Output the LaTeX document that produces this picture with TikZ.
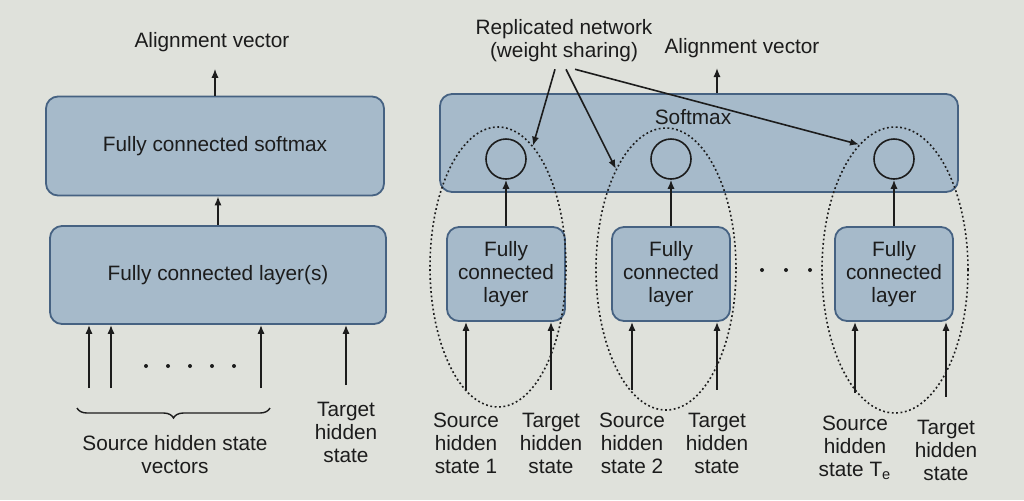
\documentclass[tikz,border=0pt]{standalone}
\usepackage{fontspec}
\setmainfont{Liberation Sans}
\usetikzlibrary{arrows.meta,shapes.geometric,decorations.pathreplacing}

\definecolor{screen}{RGB}{223,225,219}
\definecolor{boxfill}{RGB}{166,186,202}
\definecolor{boxline}{RGB}{70,98,130}
\definecolor{ink}{RGB}{28,28,28}

\begin{document}
\begin{tikzpicture}[x=0.5pt, y=-0.5pt, >={Latex[length=4.5pt,width=3.6pt]},
	every node/.style={font=\fontsize{10.4}{11.5}\selectfont, text=ink, align=center},
	layer/.style={draw=boxline, fill=boxfill, line width=0.9pt, rounded corners=6pt},
	unit/.style={circle, draw=ink, line width=0.8pt, minimum size=20pt, inner sep=0pt},
	replica/.style={ellipse, draw=ink, line width=0.8pt, dash pattern=on 0.9pt off 1.3pt, inner sep=0pt},
	flow/.style={->, draw=ink, line width=0.8pt}]
	\useasboundingbox[fill=screen] (0,0) rectangle (1024,500);
	% single network
	\begin{scope}
		\node[layer, minimum width=169pt, minimum height=49.5pt] (fcsoft) at (215,146) {Fully connected softmax};
		\node[layer, minimum width=168pt, minimum height=49pt] (fclayers) at (218,275) {Fully connected layer(s)};
		\node (alignL) at (212,42) {Alignment vector};
		\draw[flow, shorten >=5pt] (fcsoft.north) -- (fcsoft.north |- alignL.south);
		\draw[flow] (fclayers.north) -- (fclayers.north |- fcsoft.south);
		\foreach \x [count=\i] in {89,111,261} {
			\coordinate (src\i) at (\x,388);
			\draw[flow] (src\i) -- (src\i |- fclayers.south);
		}
		\foreach \x in {146,168,190,212,234} \fill[ink] (\x,366) circle[radius=2];
		\draw[ink, line width=0.7pt, decorate, decoration={brace, mirror, amplitude=5pt}] (77,408) -- (270,408);
		\node (srcvec) at (175,455) {Source hidden state\\vectors};
		\node (tgtL) at (346,432) {Target\\hidden\\state};
		\coordinate (tgtin) at (346,385);
		\draw[flow] (tgtin) -- (tgtin |- fclayers.south);
	\end{scope}
	% replicated network
	\begin{scope}
		\node[layer, minimum width=259pt, minimum height=49pt] (softmax) at (699,143) {};
		\node (smlbl) at (693,117) {Softmax};
		\node (alignR) at (742,48) {Alignment vector};
		\coordinate (outR) at (717,68);
		\draw[flow] (softmax.north -| outR) -- (outR);
		\node (replbl) at (564,41) {Replicated network\\(weight sharing)};
		\foreach \i/\x in {1/506,2/671,3/894} {
			\node[layer, minimum width=59pt, minimum height=47pt] (fc\i) at (\x,274) {Fully\\connected\\layer};
			\node[unit] (c\i) at (\x,159) {};
			\draw[flow] (fc\i) -- (c\i);
		}
		\node[replica, minimum width=68pt, minimum height=140pt] (rep1) at (498,267) {};
		\node[replica, minimum width=70pt, minimum height=141pt] (rep2) at (666,269) {};
		\node[replica, minimum width=73pt, minimum height=143pt] (rep3) at (895,270) {};
		\draw[flow] ([xshift=-4.5pt]replbl.south) -- (rep1);
		\draw[flow] ([xshift=1pt]replbl.south) -- (rep2);
		\draw[flow] ([xshift=5.5pt]replbl.south) -- (rep3.106);
		\foreach \x in {762,786,810} \fill[ink] (\x,270) circle[radius=2];
		\node (s1) at (466,443) {Source\\hidden\\state 1};
		\node (t1) at (551,443) {Target\\hidden\\state};
		\node (s2) at (632,443) {Source\\hidden\\state 2};
		\node (t2) at (717,443) {Target\\hidden\\state};
		\node (s3) at (855,448) {Source\\hidden\\state T\textsubscript{e}};
		\node (t3) at (946,450) {Target\\hidden\\state};
		\foreach \n/\i in {s1/1,t1/1,s2/2,t2/2,s3/3,t3/3}
			\draw[flow] ([yshift=8pt]\n.north) -- (\n.north |- fc\i.south);
	\end{scope}
\end{tikzpicture}
\end{document}
